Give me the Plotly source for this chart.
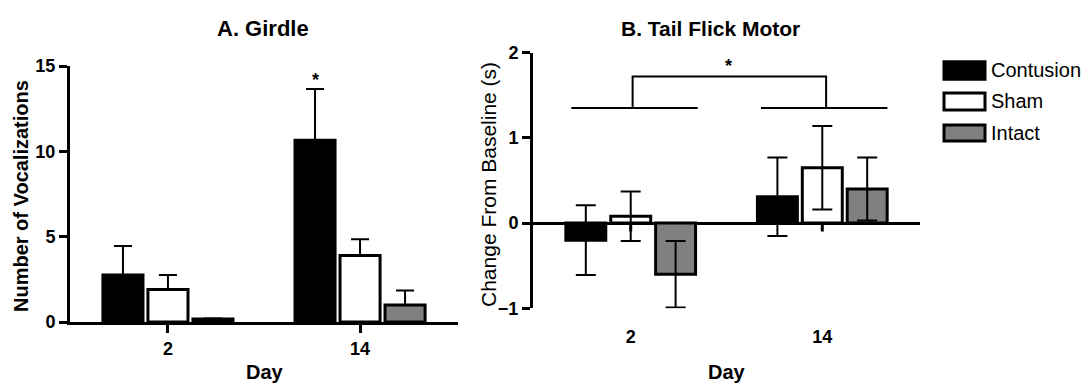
import plotly.graph_objects as go

# ---------------- data ----------------
days = ["2", "14"]
groups = ["Contusion", "Sham", "Intact"]

girdle_contusion = [2.75, 10.65]
girdle_contusion_err = [1.7, 3.0]
girdle_sham = [1.9, 3.9]
girdle_sham_err = [0.85, 0.95]
girdle_intact = [0.18, 1.0]
girdle_intact_err = [0.03, 0.85]

tail_contusion = [-0.2, 0.31]
tail_contusion_err = [0.41, 0.46]
tail_sham = [0.08, 0.65]
tail_sham_err = [0.29, 0.49]
tail_intact = [-0.6, 0.40]
tail_intact_err = [0.39, 0.37]

girdle_ticks = [0, 5, 10, 15]
tail_ticks = [-1, 0, 1, 2]

# ---------------- style ----------------
W, H = 1083, 383
FONT = "Arial, Liberation Sans, Helvetica, sans-serif"
colors = {"Contusion": "#000000", "Sham": "#ffffff", "Intact": "#808080"}

def px_x(p):
    return p / W

def px_y(p):
    return 1 - p / H

fig = go.Figure()

girdle = {"Contusion": (girdle_contusion, girdle_contusion_err),
          "Sham": (girdle_sham, girdle_sham_err),
          "Intact": (girdle_intact, girdle_intact_err)}
tail = {"Contusion": (tail_contusion, tail_contusion_err),
        "Sham": (tail_sham, tail_sham_err),
        "Intact": (tail_intact, tail_intact_err)}

for g in groups:
    v, e = girdle[g]
    fig.add_trace(go.Bar(
        x=days, y=v, name=g, showlegend=False, xaxis="x", yaxis="y",
        marker=dict(color=colors[g], line=dict(color="black", width=3)),
        error_y=dict(type="data", array=e, arrayminus=[0] * len(e), symmetric=False,
                     color="black", thickness=2, width=9),
    ))
for g in groups:
    v, e = tail[g]
    fig.add_trace(go.Bar(
        x=days, y=v, name=g, showlegend=False, xaxis="x2", yaxis="y2",
        marker=dict(color=colors[g], line=dict(color="black", width=3)),
        error_y=dict(type="data", array=e, color="black", thickness=2, width=10),
    ))

ytickfont = dict(family=FONT, size=18, color="black", weight="bold")
xtickfont = dict(family=FONT, size=18, color="black", weight="bold")

fig.update_layout(
    width=W, height=H,
    margin=dict(l=0, r=0, t=0, b=0, pad=0),
    paper_bgcolor="white", plot_bgcolor="white",
    barmode="group", bargap=0.297, bargroupgap=0.11,
    showlegend=False,
    font=dict(family=FONT, color="black"),
    xaxis=dict(domain=[px_x(70), px_x(458)], type="category", range=[-0.51, 1.51],
               showline=True, linewidth=3, linecolor="black", showgrid=False,
               ticks="outside", ticklen=8, tickwidth=3, tickcolor="black",
               tickfont=xtickfont, zeroline=False, anchor="y", automargin=False),
    yaxis=dict(domain=[px_y(322), px_y(66)], range=[0, 15], tickvals=girdle_ticks,
               showline=True, linewidth=3, linecolor="black", showgrid=False,
               ticks="outside", ticklen=8, tickwidth=3, tickcolor="black",
               tickfont=ytickfont, zeroline=False, anchor="x", automargin=False),
    xaxis2=dict(domain=[px_x(533), px_x(920)], type="category", range=[-0.51, 1.51],
                showline=False, showgrid=False, ticks="", tickfont=xtickfont,
                ticklabelstandoff=16, zeroline=False, anchor="y2", automargin=False),
    yaxis2=dict(domain=[px_y(308.3), px_y(52.7)], range=[-1, 2], tickvals=tail_ticks,
                showline=True, linewidth=3, linecolor="black", showgrid=False,
                ticks="outside", ticklen=8, tickwidth=3, tickcolor="black",
                tickfont=ytickfont, zeroline=True, zerolinewidth=3, zerolinecolor="black",
                anchor="x2", automargin=False),
)

shapes = []
# tick marks on the zero line of panel B
for i in range(len(days)):
    shapes.append(dict(type="line", xref="x2", yref="y2", x0=i, x1=i, y0=0, y1=-0.1,
                       line=dict(color="black", width=3)))
# significance lines panel B
line_style = dict(color="black", width=2)
shapes.append(dict(type="line", xref="x2", yref="y2", x0=-0.31, x1=0.35, y0=1.35, y1=1.35, line=line_style))
shapes.append(dict(type="line", xref="x2", yref="y2", x0=0.68, x1=1.34, y0=1.35, y1=1.35, line=line_style))
shapes.append(dict(type="path", xref="x2", yref="y2",
                   path="M 0.01,1.35 L 0.01,1.72 L 1.02,1.72 L 1.02,1.35", line=line_style))

# legend swatches
leg_rows = [(61.7, 79.3), (93, 110), (125, 141)]
annotations = []
for g, (t, b) in zip(groups, leg_rows):
    shapes.append(dict(type="rect", xref="paper", yref="paper",
                       x0=px_x(944), x1=px_x(985), y0=px_y(b), y1=px_y(t),
                       fillcolor=colors[g], line=dict(color="black", width=3)))
    annotations.append(dict(xref="paper", yref="paper", x=px_x(989), y=px_y((t + b) / 2),
                            text=g, showarrow=False, xanchor="left", yanchor="middle",
                            font=dict(family=FONT, size=20, color="black")))

# titles
annotations += [
    dict(xref="paper", yref="paper", x=px_x(263), y=px_y(28), text="<b>A. Girdle</b>",
         showarrow=False, xanchor="center", yanchor="middle", font=dict(family=FONT, size=22)),
    dict(xref="paper", yref="paper", x=px_x(710), y=px_y(28), text="<b>B. Tail Flick Motor</b>",
         showarrow=False, xanchor="center", yanchor="middle", font=dict(family=FONT, size=21)),
    dict(xref="paper", yref="paper", x=px_x(21), y=px_y(196), text="<b>Number of Vocalizations</b>",
         showarrow=False, textangle=-90, xanchor="center", yanchor="middle", font=dict(family=FONT, size=20)),
    dict(xref="paper", yref="paper", x=px_x(488), y=px_y(185), text="Change From Baseline (s)",
         showarrow=False, textangle=-90, xanchor="center", yanchor="middle", font=dict(family=FONT, size=21)),
    dict(xref="paper", yref="paper", x=px_x(265), y=px_y(372), text="<b>Day</b>",
         showarrow=False, xanchor="center", yanchor="middle", font=dict(family=FONT, size=20)),
    dict(xref="paper", yref="paper", x=px_x(727), y=px_y(372), text="<b>Day</b>",
         showarrow=False, xanchor="center", yanchor="middle", font=dict(family=FONT, size=20)),
    # significance stars
    dict(xref="x", yref="y", x=0.766, y=14.2, text="<b>*</b>", showarrow=False,
         font=dict(family=FONT, size=18)),
    dict(xref="x2", yref="y2", x=0.51, y=1.84, text="<b>*</b>", showarrow=False,
         font=dict(family=FONT, size=18)),
]

fig.update_layout(shapes=shapes, annotations=annotations)
fig.write_html("out.html", config={"displayModeBar": False},
               post_script="document.body.style.margin='0';document.body.style.overflow='hidden';")
